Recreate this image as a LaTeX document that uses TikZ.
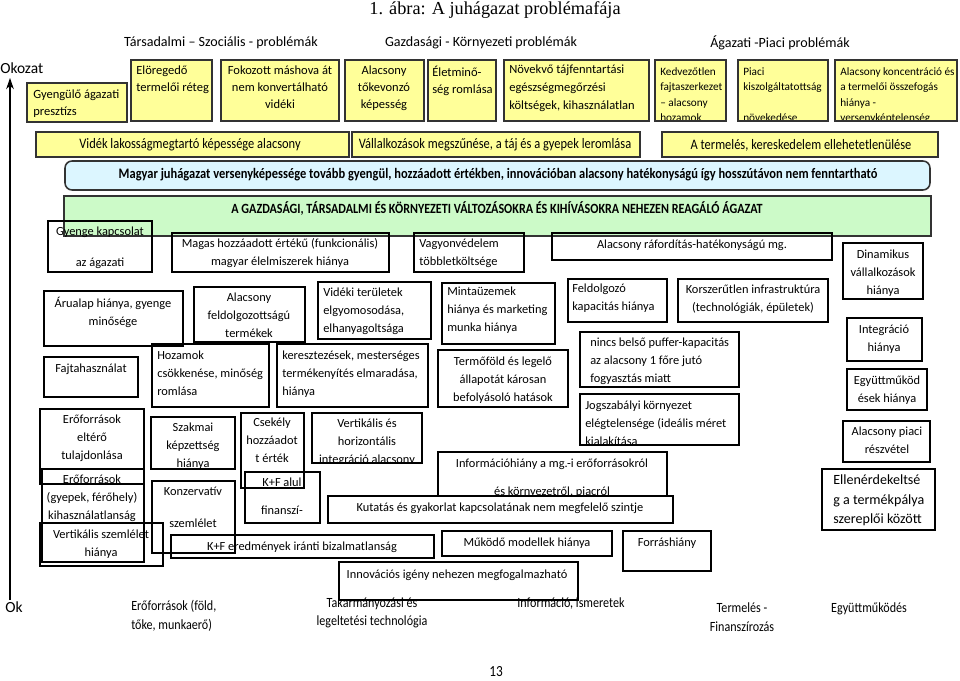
\documentclass[tikz,border=0pt]{standalone}
\usepackage{fontspec}
\setmainfont{Carlito}
\newfontfamily\titlefont{Liberation Serif}
\newfontfamily\narrowfont[FakeStretch=0.86]{Carlito}
\usetikzlibrary{arrows.meta}

\definecolor{probyellow}{RGB}{255,255,153}
\definecolor{probblue}{RGB}{220,246,255}
\definecolor{probgreen}{RGB}{204,250,200}

\tikzset{
  ybox/.style={draw=black!80, line width=1.1pt, fill=probyellow},
  wbox/.style={draw=black, line width=0.8pt},
  txt/.style={inner sep=0pt, font=\fontsize{8.8}{12.8}\selectfont},
  toptxt/.style={inner sep=0pt, font=\fontsize{8.9}{12}\selectfont},
  smalltxt/.style={inner sep=0pt, font=\fontsize{8}{11}\selectfont},
  narrowtxt/.style={inner sep=0pt, font=\narrowfont\fontsize{10.3}{13.5}\selectfont},
  head/.style={inner sep=0pt, font=\fontsize{10}{12}\selectfont},
}

\begin{document}
\begin{tikzpicture}[x=0.025cm,y=-0.025cm]
\useasboundingbox (0,0) rectangle (960,681);

% title and headings
\node[inner sep=0pt, font=\titlefont\fontsize{13}{15}\selectfont] (title) at (495,10) {1. ábra: A juhágazat problémafája};
\node[head] (hsoc) at (221,43) {Társadalmi – Szociális - problémák};
\node[head] (hgazd) at (481,43) {Gazdasági - Környezeti problémák};
\node[head] (hpiac) at (780,43) {Ágazati -Piaci problémák};

% axis
\node[head, font=\fontsize{11}{13}\selectfont, anchor=west] (okozat) at (0,68) {Okozat};
\node[head, font=\fontsize{11}{13}\selectfont, anchor=west] (ok) at (5,607) {Ok};
\coordinate (axbot) at (10,600);
\coordinate (axtop) at (10,78);
\draw[line width=0.8pt, -{Stealth[length=8pt,width=5.5pt]}] (axbot) -- (axtop);

% top row (yellow)
\draw[ybox] (27,83) rectangle (127,122);
\node[toptxt, anchor=north west, align=left] (presztizs) at (33,89.5) {Gyengülő ágazati\\presztízs};
\draw[ybox] (131,60) rectangle (212,121);
\node[toptxt, anchor=north west, align=left] (oreg) at (136,65.5) {Elöregedő\\termelői réteg};
\draw[ybox] (221,60) rectangle (339,121);
\node[toptxt, anchor=north, align=center] (konvert) at (280,65.5) {Fokozott máshova át\\nem konvertálható\\vidéki};
\draw[ybox] (345,60) rectangle (424,121);
\node[toptxt, anchor=north, align=center] (toke) at (384,65.5) {Alacsony\\tőkevonzó\\képesség};
\draw[ybox] (428,60) rectangle (496,121);
\node[toptxt, anchor=north west, align=left] (eletmin) at (432,65.5) {Életminő-\\ség romlása};
\draw[ybox] (504,60) rectangle (649,121);
\node[toptxt, font=\fontsize{8.9}{12.8}\selectfont, anchor=north west, align=left] (tajfenn) at (509,64.5) {Növekvő tájfenntartási\\egészségmegőrzési\\költségek, kihasználatlan};
\draw[ybox] (655,60) rectangle (726,121);
\begin{scope}
\clip (655,60) rectangle (726,120);
\node[smalltxt, anchor=north west, align=left] (fajta) at (660,67) {Kedvezőtlen\\fajtaszerkezet\\– alacsony\\hozamok};
\end{scope}
\draw[ybox] (738,60) rectangle (828,121);
\begin{scope}
\clip (738,60) rectangle (828,120);
\node[smalltxt, anchor=north west, align=left] (kiszolg) at (743,67) {Piaci\\kiszolgáltatottság\\[11pt]növekedése};
\end{scope}
\draw[ybox] (835,60) rectangle (957,121);
\begin{scope}
\clip (835,60) rectangle (957,120);
\node[smalltxt, anchor=north west, align=left] (koncent) at (840,67) {Alacsony koncentráció és\\a termelői összefogás\\hiánya -\\versenyképtelenség};
\end{scope}

% second row (yellow)
\draw[ybox] (36,132) rectangle (349,157);
\node[narrowtxt] (lakos) at (190,145) {Vidék lakosságmegtartó képessége alacsony};
\draw[ybox] (352,132) rectangle (640,157);
\node[narrowtxt] (vallalk) at (495,145) {Vállalkozások megszűnése, a táj és a gyepek leromlása};
\draw[ybox] (662,132) rectangle (938,157);
\node[narrowtxt] (kereske) at (801,145) {A termelés, kereskedelem ellehetetlenülése};

% main statements
\draw[draw=black!80, line width=1.1pt, fill=probblue, rounded corners=5pt] (65,161) rectangle (930,190);
\node[narrowtxt, font=\narrowfont\bfseries\fontsize{10.3}{12}\selectfont] (verseny) at (498,175) {Magyar juhágazat versenyképessége tovább gyengül, hozzáadott értékben, innovációban alacsony hatékonyságú így hosszútávon nem fenntartható};
\draw[draw=black!80, line width=1.1pt, fill=probgreen] (64,196) rectangle (931,236);
\node[narrowtxt, font=\narrowfont\bfseries\fontsize{10}{12}\selectfont] (agazat) at (497,209) {A GAZDASÁGI, TÁRSADALMI ÉS KÖRNYEZETI VÁLTOZÁSOKRA ÉS KIHÍVÁSOKRA NEHEZEN REAGÁLÓ ÁGAZAT};

% causes
\draw[wbox] (48,221) rectangle (152,272);
\begin{scope}
\clip (48,221) rectangle (152,272);
\node[txt, anchor=north, align=center] (kapcs) at (100,226.5) {Gyenge kapcsolat\\[9pt]az ágazati};
\end{scope}
\draw[wbox] (172,233) rectangle (389,272);
\begin{scope}
\clip (172,233) rectangle (389,272);
\node[txt, anchor=north, align=center] (elelm) at (280,238.5) {Magas hozzáadott értékű (funkcionális)\\magyar élelmiszerek hiánya};
\end{scope}
\draw[wbox] (414,233) rectangle (524,272);
\begin{scope}
\clip (414,233) rectangle (524,272);
\node[txt, anchor=north west, align=left] (vagyon) at (419,238.5) {Vagyonvédelem\\többletköltsége};
\end{scope}
\draw[wbox] (552,233) rectangle (832,260);
\node[txt] (rafordit) at (692,245) {Alacsony ráfordítás-hatékonyságú mg.};
\draw[wbox] (843,243) rectangle (923,299);
\begin{scope}
\clip (843,243) rectangle (923,299);
\node[txt, anchor=north, align=center] (dinam) at (883,249.5) {Dinamikus\\vállalkozások\\hiánya};
\end{scope}

\draw[wbox] (44,291) rectangle (183,346);
\node[txt, anchor=north, align=center] (arualap) at (113,296.5) {Árualap hiánya, gyenge\\minősége};
\draw[wbox] (194,287) rectangle (305,342);
\begin{scope}
\clip (194,287) rectangle (305,342);
\node[txt, anchor=north, align=center] (feldolg) at (249,292.5) {Alacsony\\feldolgozottságú\\termékek};
\end{scope}
\draw[wbox] (318,282) rectangle (431,339);
\node[txt, anchor=north west, align=left] (elgyom) at (323,287.5) {Vidéki területek\\elgyomosodása,\\elhanyagoltsága};
\draw[wbox] (442,283) rectangle (555,344);
\node[txt, anchor=north west, align=left] (minta) at (447,286.5) {Mintaüzemek\\hiánya és marketing\\munka hiánya};
\draw[wbox] (568,279) rectangle (667,322);
\node[txt, anchor=north west, align=left] (kapac) at (572,283.5) {Feldolgozó\\kapacitás hiánya};
\draw[wbox] (678,279) rectangle (828,322);
\node[txt, anchor=north, align=center] (infra) at (753,284.5) {Korszerűtlen infrastruktúra\\(technológiák, épületek)};
\draw[wbox] (847,318) rectangle (922,361);
\node[txt, anchor=north, align=center] (integr) at (884,324.5) {Integráció\\hiánya};

\draw[wbox] (44,357) rectangle (138,397);
\node[txt] (fajtahasz) at (91,369) {Fajtahasználat};
\draw[wbox] (152,344) rectangle (269,407);
\node[txt, anchor=north west, align=left] (hozam) at (157,350.5) {Hozamok\\csökkenése, minőség\\romlása};
\draw[wbox] (277,344) rectangle (428,407);
\node[txt, anchor=north west, align=left] (kereszt) at (282,350.5) {keresztezések, mesterséges\\termékenyítés elmaradása,\\hiánya};
\draw[wbox] (438,350) rectangle (568,407);
\node[txt, anchor=north, align=center] (termofold) at (503,356.5) {Termőföld és legelő\\állapotát károsan\\befolyásoló hatások};
\draw[wbox] (580,332) rectangle (739,387);
\begin{scope}
\clip (580,332) rectangle (739,387);
\node[txt, anchor=north west, align=left] (puffer) at (590,337.5) {nincs belső puffer-kapacitás\\az alacsony 1 főre jutó\\fogyasztás miatt};
\end{scope}
\draw[wbox] (847,369) rectangle (927,410);
\node[txt, anchor=north, align=center] (egyutt) at (887,375.5) {Együttműköd\\ések hiánya};

\draw[wbox] (580,394) rectangle (739,445);
\begin{scope}
\clip (580,394) rectangle (739,445);
\node[txt, anchor=north west, align=left] (jogszab) at (585,400.5) {Jogszabályi környezet\\elégtelensége (ideális méret\\kialakítása};
\end{scope}
\draw[wbox] (843,421) rectangle (930,462);
\node[txt, anchor=north, align=center] (piacreszv) at (887,426.5) {Alacsony piaci\\részvétel};
\draw[wbox] (822,469) rectangle (935,530);
\begin{scope}
\clip (822,469) rectangle (935,530);
\node[txt, font=\fontsize{10}{14}\selectfont, anchor=north west, align=left] (ellen) at (833,474.5) {Ellenérdekeltsé\\g a termékpálya\\szereplői között};
\end{scope}

% left column
\draw[wbox] (40,409) rectangle (144,484);
\node[txt, anchor=north, align=center] (eltero) at (92,414.5) {Erőforrások\\eltérő\\tulajdonlása};
\draw[wbox] (42,469) rectangle (144,562);
\node[txt, anchor=north, align=center] (kihaszn) at (92,474.5) {Erőforrások\\(gyepek, férőhely)\\kihasználatlanság};
\draw[wbox] (40,523) rectangle (163,566);
\node[txt, anchor=north, align=center] (vertszem) at (101,529.5) {Vertikális szemlélet\\hiánya};

\draw[wbox] (151,417) rectangle (235,469);
\begin{scope}
\clip (151,417) rectangle (235,469);
\node[txt, anchor=north, align=center] (szakmai) at (193,422.5) {Szakmai\\képzettség\\hiánya};
\end{scope}
\draw[wbox] (241,413) rectangle (304,488);
\node[txt, anchor=north, align=center] (csekely) at (272,417.5) {Csekély\\hozzáadot\\t érték};
\draw[wbox] (312,413) rectangle (422,463);
\begin{scope}
\clip (312,413) rectangle (422,463);
\node[txt, anchor=north, align=center] (vertint) at (367,418.5) {Vertikális és\\horizontális\\integráció alacsony};
\end{scope}
\draw[wbox] (245,472) rectangle (320,523);
\begin{scope}
\clip (245,472) rectangle (320,523);
\node[txt, anchor=north, align=center] (kfalul) at (282,477.5) {K+F alul\\[7pt]finanszí-};
\end{scope}
\draw[wbox] (152,481) rectangle (235,553);
\node[txt, anchor=north, align=center] (konzerv) at (193,486.5) {Konzervatív\\[10pt]szemlélet};
\draw[wbox] (171,535) rectangle (434,558);
\node[txt] (bizalm) at (302,547) {K+F eredmények iránti bizalmatlanság};

\draw[wbox] (438,452) rectangle (667,523);
\begin{scope}
\clip (438,452) rectangle (667,523);
\node[txt, anchor=north, align=center] (infohiany) at (552,458.5) {Információhiány a mg.-i erőforrásokról\\[7.5pt]és környezetről, piacról};
\end{scope}
\draw[wbox, fill=white] (328,496) rectangle (673,523);
\node[txt] (kutatas) at (500,508) {Kutatás és gyakorlat kapcsolatának nem megfelelő szintje};
\draw[wbox] (442,531) rectangle (612,556);
\node[txt] (modell) at (527,543) {Működő modellek hiánya};
\draw[wbox] (623,531) rectangle (711,571);
\node[txt] (forras) at (667,543) {Forráshiány};
\draw[wbox] (339,562) rectangle (578,600);
\node[txt] (innov) at (457,575) {Innovációs igény nehezen megfogalmazható};

% cause groups along the bottom
\node[narrowtxt, font=\narrowfont\fontsize{10}{13.5}\selectfont, anchor=north west, align=left] (gfold) at (131,600) {Erőforrások (föld,\\tőke, munkaerő)};
\node[narrowtxt, font=\narrowfont\fontsize{10}{12.8}\selectfont, anchor=north, align=center] (gtakarm) at (372,597) {Takarmányozási és\\legeltetési technológia};
\node[narrowtxt, font=\narrowfont\fontsize{10}{13.5}\selectfont] (ginfo) at (571,604) {Információ, ismeretek};
\node[narrowtxt, font=\narrowfont\fontsize{10}{13.5}\selectfont, anchor=north, align=center] (gterm) at (742,602) {Termelés -\\Finanszírozás};
\node[narrowtxt, font=\narrowfont\fontsize{10}{13.5}\selectfont] (gegyutt) at (869,609) {Együttműködés};
\node[narrowtxt, font=\narrowfont\fontsize{11}{13}\selectfont] (oldal) at (496,672) {13};
\end{tikzpicture}
\end{document}
